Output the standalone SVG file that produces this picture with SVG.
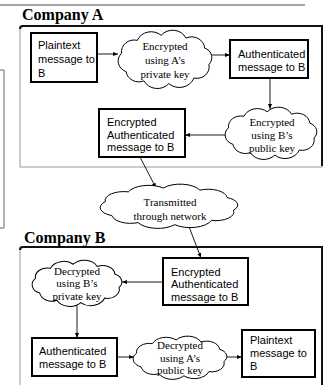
<svg xmlns="http://www.w3.org/2000/svg" xmlns:xlink="http://www.w3.org/1999/xlink" width="324" height="385" viewBox="0 0 324 385">
<style>
.box{fill:#fff;stroke:#000;stroke-width:2}
.bt{font-family:"Liberation Sans",Arial,sans-serif;font-size:11px;fill:#000}
.ct{font-family:"Liberation Serif","Times New Roman",serif;font-size:11px;fill:#000;text-anchor:middle}
.tt{font-family:"Liberation Serif","Times New Roman",serif;font-size:16px;font-weight:bold;fill:#000}
.frame{fill:#fff;stroke:#999;stroke-width:1}
.frameDark{fill:none;stroke:#111;stroke-width:2}
.conn{fill:none;stroke:#000;stroke-width:0.9;marker-end:url(#ah)}
</style>
<defs>
<marker id="ah" viewBox="0 0 10 10" refX="10" refY="5" markerWidth="5" markerHeight="5" orient="auto" markerUnits="userSpaceOnUse">
<path d="M0,1 L10,5 L0,9 Z" fill="#000"/>
</marker>
<symbol id="cloud" viewBox="4 -1 92 61" preserveAspectRatio="none" overflow="visible">
<path d="M7.5,23.4 A12.4,12.4 0 0 1 22.9,9.9 A14.6,14.6 0 0 1 46.2,4.6 A14.5,14.5 0 0 1 70.6,7.5 A12.7,12.7 0 0 1 88.8,18 A10.7,10.7 0 0 1 93,35.3 A12.1,12.1 0 0 1 78.3,49.5 A15.1,15.1 0 0 1 53.8,55.4 A14.8,14.8 0 0 1 29.4,52.5 A12.6,12.6 0 0 1 11.9,42.75 A11.8,11.8 0 0 1 7.5,23.4 Z" fill="#fff" stroke="#000" stroke-width="1" vector-effect="non-scaling-stroke"/>
</symbol>
</defs>

<!-- page decorations -->
<line x1="0" y1="5" x2="305" y2="5" stroke="#888" stroke-width="1.5"/>
<path d="M0,70 H4 V228 H0" fill="none" stroke="#666" stroke-width="1"/>

<!-- Company A frame -->
<g id="companyA">
<rect class="frame" x="20" y="26" width="302" height="141"/>
<path class="frameDark" d="M20,29 Q20,26 23,26 H322 V166"/>
<text class="tt" x="22" y="20">Company A</text>
</g>

<!-- Company B frame -->
<g id="companyB">
<rect class="frame" x="20" y="247" width="302" height="150"/>
<path class="frameDark" d="M20,250 Q20,247 23,247 H322 V386"/>
<text class="tt" x="24" y="243">Company B</text>
</g>

<!-- connectors -->
<g id="connectors">
<line class="conn" x1="97" y1="54" x2="118" y2="54"/>
<line class="conn" x1="212" y1="55" x2="230" y2="55"/>
<line class="conn" x1="270" y1="78" x2="270" y2="109"/>
<line class="conn" x1="225" y1="135" x2="185" y2="135"/>
<line class="conn" x1="140" y1="157" x2="156" y2="188"/>
<line class="conn" x1="188" y1="224" x2="201" y2="258"/>
<line class="conn" x1="163" y1="282" x2="122" y2="282"/>
<line class="conn" x1="77" y1="305" x2="77" y2="338"/>
<line class="conn" x1="117" y1="357" x2="134" y2="357"/>
<line class="conn" x1="227" y1="357" x2="242" y2="357"/>
</g>

<!-- Company A nodes -->
<g id="a_plaintext">
<rect class="box" x="31" y="33" width="66" height="49"/>
<text class="bt" x="38" y="49">Plaintext</text>
<text class="bt" x="38" y="63">message to</text>
<text class="bt" x="38" y="76.5">B</text>
</g>
<g id="a_encrypt_private">
<use xlink:href="#cloud" href="#cloud" x="118" y="30" width="94" height="58"/>
<text class="ct" x="165" y="50">Encrypted</text>
<text class="ct" x="165" y="64">using A’s</text>
<text class="ct" x="165" y="77.5">private key</text>
</g>
<g id="a_authenticated">
<rect class="box" x="230" y="40" width="78" height="38"/>
<text class="bt" x="238" y="57.5">Authenticated</text>
<text class="bt" x="238" y="71">message to B</text>
</g>
<g id="a_encrypt_public">
<use xlink:href="#cloud" href="#cloud" x="225" y="107" width="92" height="52"/>
<text class="ct" x="272" y="126">Encrypted</text>
<text class="ct" x="272" y="139">using B’s</text>
<text class="ct" x="272" y="152">public key</text>
</g>
<g id="a_enc_auth">
<rect class="box" x="99" y="109" width="86" height="48"/>
<text class="bt" x="107" y="126">Encrypted</text>
<text class="bt" x="107" y="138.5">Authenticated</text>
<text class="bt" x="107" y="151">message to B</text>
</g>

<!-- network -->
<g id="network">
<use xlink:href="#cloud" href="#cloud" x="100" y="184" width="138" height="44"/>
<text class="ct" x="170" y="206">Transmitted</text>
<text class="ct" x="170" y="220">through network</text>
</g>

<!-- Company B nodes -->
<g id="b_enc_auth">
<rect class="box" x="163" y="258" width="85" height="47"/>
<text class="bt" x="171" y="275.5">Encrypted</text>
<text class="bt" x="171" y="288">Authenticated</text>
<text class="bt" x="171" y="300.5">message to B</text>
</g>
<g id="b_decrypt_private">
<use xlink:href="#cloud" href="#cloud" x="32" y="260" width="90" height="46"/>
<text class="ct" x="77" y="274.5">Decrypted</text>
<text class="ct" x="77" y="287">using B’s</text>
<text class="ct" x="77" y="299.5">private key</text>
</g>
<g id="b_authenticated">
<rect class="box" x="32" y="338" width="85" height="38"/>
<text class="bt" x="39" y="355">Authenticated</text>
<text class="bt" x="39" y="368">message to B</text>
</g>
<g id="b_decrypt_public">
<use xlink:href="#cloud" href="#cloud" x="133" y="336" width="94" height="43"/>
<text class="ct" x="180" y="349">Decrypted</text>
<text class="ct" x="180" y="361.5">using A’s</text>
<text class="ct" x="180" y="374">public key</text>
</g>
<g id="b_plaintext">
<rect class="box" x="242" y="330" width="73" height="47"/>
<text class="bt" x="250" y="344">Plaintext</text>
<text class="bt" x="250" y="357">message to</text>
<text class="bt" x="250" y="370">B</text>
</g>
</svg>
